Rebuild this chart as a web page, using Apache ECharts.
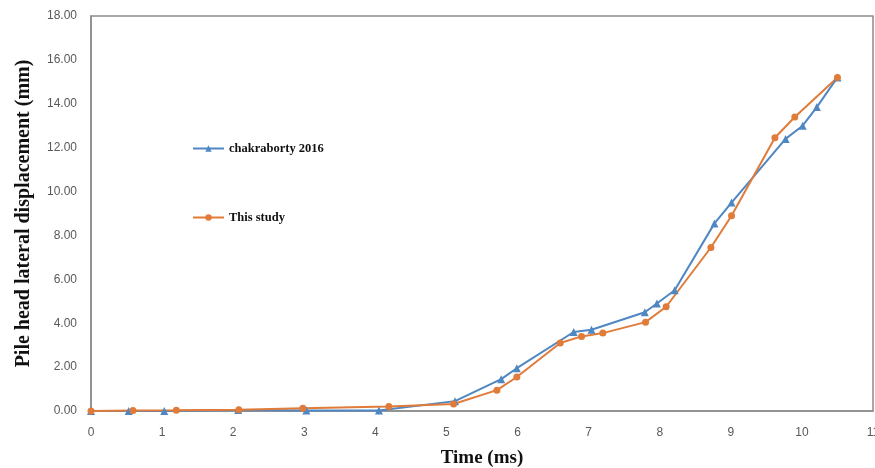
<!DOCTYPE html>
<html>
<head>
<meta charset="utf-8">
<script src="https://cdn.jsdelivr.net/npm/echarts@6/dist/echarts.min.js"></script>
<style>
  html, body { margin: 0; padding: 0; background: #fff; }
  #chart { width: 875px; height: 468px; }
</style>
</head>
<body>
<div id="chart"></div>
<script>
// chakraborty 2016 (blue triangles)
const timeChak = [0, 0.53, 1.03, 2.07, 3.03, 4.05, 5.12, 5.77, 5.99, 6.79, 7.04, 7.79, 7.96, 8.21, 8.77, 9.01, 9.77, 10.01, 10.21, 10.5];
const dispChak = [0, 0, 0, 0.05, 0.02, 0.02, 0.45, 1.45, 1.95, 3.6, 3.7, 4.5, 4.9, 5.5, 8.55, 9.5, 12.4, 13.0, 13.85, 15.2];

// This study (orange circles)
const timeStudy = [0, 0.59, 1.2, 2.08, 2.98, 4.19, 5.1, 5.71, 5.99, 6.6, 6.9, 7.2, 7.8, 8.09, 8.72, 9.01, 9.62, 9.9, 10.5];
const dispStudy = [0, 0.02, 0.03, 0.06, 0.12, 0.2, 0.32, 0.95, 1.55, 3.1, 3.4, 3.55, 4.05, 4.75, 7.45, 8.9, 12.45, 13.4, 15.2];

const xTicks = [0, 11, 1];   // min, max, interval
const yTicks = [0, 18, 2];

const pairs = (xs, ys) => xs.map((x, i) => [x, ys[i]]);

const chart = echarts.init(document.getElementById('chart'));

const serif = '"Liberation Serif", "DejaVu Serif", serif';
const sans = '"Liberation Sans", Arial, sans-serif';

chart.setOption({
  animation: false,
  backgroundColor: '#fff',
  grid: {
    left: 91, right: 2, top: 16, bottom: 57,
    outerBoundsMode: 'none',
    containLabel: false,
    show: true, borderColor: '#8c8c8c', borderWidth: 1.5
  },
  legend: {
    orient: 'vertical',
    left: 187, top: 137,
    itemGap: 56,
    itemWidth: 31, itemHeight: 8,
    textStyle: { fontFamily: serif, fontWeight: 'bold', fontSize: 12.5, color: '#111' },
    data: ['chakraborty 2016', 'This study']
  },
  xAxis: {
    type: 'value',
    min: xTicks[0], max: xTicks[1], interval: xTicks[2],
    name: 'Time (ms)',
    nameLocation: 'middle', nameGap: 38,
    nameTextStyle: { fontFamily: serif, fontWeight: 'bold', fontSize: 19, color: '#111' },
    axisLine: { lineStyle: { color: '#8c8c8c', width: 1.5 } },
    axisTick: { show: false },
    splitLine: { show: false },
    axisLabel: { fontFamily: sans, fontSize: 12, color: '#595959', margin: 16 }
  },
  yAxis: {
    type: 'value',
    min: yTicks[0], max: yTicks[1], interval: yTicks[2],
    name: 'Pile head lateral displacement (mm)',
    nameLocation: 'middle', nameGap: 57,
    nameTextStyle: { fontFamily: serif, fontWeight: 'bold', fontSize: 20, color: '#111' },
    axisLine: { show: true, lineStyle: { color: '#8c8c8c', width: 1.5 } },
    axisTick: { show: false },
    splitLine: { show: false },
    axisLabel: { fontFamily: sans, fontSize: 12, color: '#595959', margin: 14,
      formatter: v => v.toFixed(2) }
  },
  series: [
    {
      name: 'chakraborty 2016',
      type: 'line',
      data: pairs(timeChak, dispChak),
      symbol: 'triangle', symbolSize: 8,
      lineStyle: { color: '#4f87c2', width: 2 },
      itemStyle: { color: '#4f87c2' }
    },
    {
      name: 'This study',
      type: 'line',
      data: pairs(timeStudy, dispStudy),
      symbol: 'circle', symbolSize: 7,
      lineStyle: { color: '#e07b39', width: 2 },
      itemStyle: { color: '#e07b39' }
    }
  ]
});
</script>
</body>
</html>
